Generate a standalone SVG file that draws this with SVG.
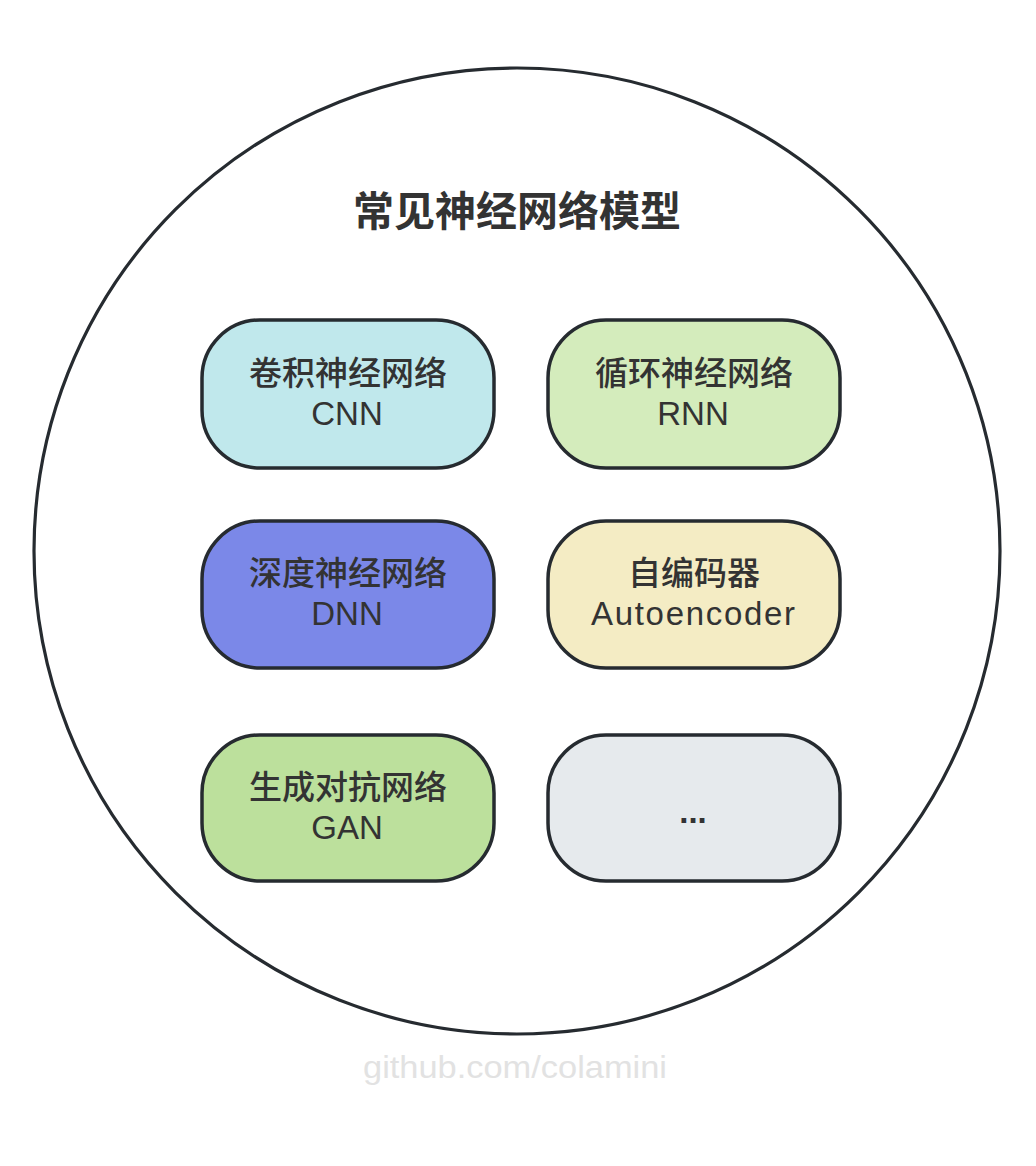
<svg xmlns="http://www.w3.org/2000/svg" width="1036" height="1166" viewBox="0 0 1036 1166">
<style>
.box{stroke:#262b30;stroke-width:3.5}
.cjk{font-family:"Noto Sans CJK SC","Liberation Sans",sans-serif;font-size:33px;font-weight:500;fill:#333333;text-anchor:middle}
.lat{font-family:"Liberation Sans","Noto Sans",sans-serif;font-size:33px;fill:#333333;text-anchor:middle}
</style>
<rect width="1036" height="1166" fill="#ffffff"/>
<g id="container">
<circle cx="517" cy="551" r="483" fill="#ffffff" stroke="#262b30" stroke-width="3.2"/>
<text x="517" y="226" style="font-family:'Noto Sans CJK SC','Liberation Sans',sans-serif;font-size:41px;font-weight:700;fill:#333333;text-anchor:middle">常见神经网络模型</text>
</g>
<g id="connectors"></g>
<g id="cnn">
<rect class="box" x="202" y="320" width="292" height="148" rx="58" fill="#c0e8ec"/>
<text class="cjk" x="348" y="385">卷积神经网络</text>
<text class="lat" x="347" y="425">CNN</text>
</g>
<g id="rnn">
<rect class="box" x="548" y="320" width="292" height="148" rx="58" fill="#d4ecbc"/>
<text class="cjk" x="694" y="385">循环神经网络</text>
<text class="lat" x="693" y="425">RNN</text>
</g>
<g id="dnn">
<rect class="box" x="202" y="521" width="292" height="147" rx="58" fill="#7b88e8"/>
<text class="cjk" x="348" y="585">深度神经网络</text>
<text class="lat" x="347" y="625">DNN</text>
</g>
<g id="autoencoder">
<rect class="box" x="548" y="521" width="292" height="147" rx="58" fill="#f4ecc4"/>
<text class="cjk" x="694" y="585">自编码器</text>
<text class="lat" x="693" y="625" textLength="204" lengthAdjust="spacing">Autoencoder</text>
</g>
<g id="gan">
<rect class="box" x="202" y="735" width="292" height="146" rx="58" fill="#bce09c"/>
<text class="cjk" x="348" y="799">生成对抗网络</text>
<text class="lat" x="347" y="839">GAN</text>
</g>
<g id="more">
<rect class="box" x="548" y="735" width="292" height="146" rx="58" fill="#e6eaed"/>
<text class="lat" x="693" y="823" font-weight="bold" font-size="28">...</text>
</g>
<text x="515" y="1078" textLength="304" lengthAdjust="spacingAndGlyphs" style="font-family:'Liberation Sans',sans-serif;font-size:32px;fill:#e2e2e2;text-anchor:middle">github.com/colamini</text>
</svg>
